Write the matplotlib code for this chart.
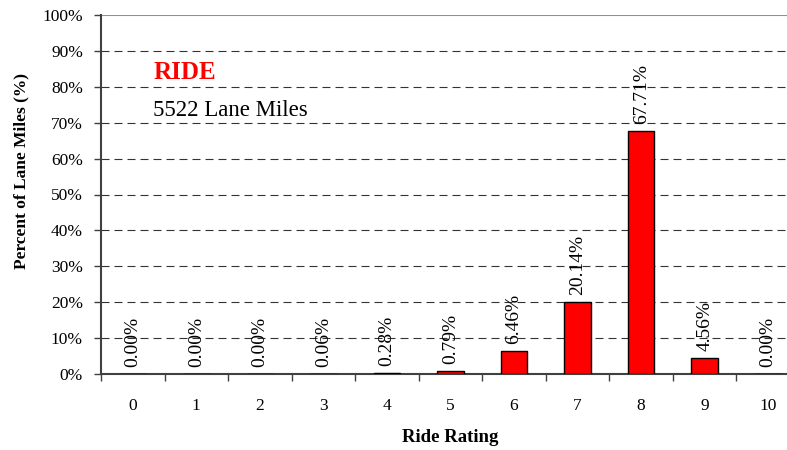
import matplotlib.pyplot as plt
import numpy as np

plt.rcParams['font.family'] = ['Liberation Serif', 'DejaVu Serif']

ratings = [0, 1, 2, 3, 4, 5, 6, 7, 8, 9, 10]
percents = [0.00, 0.00, 0.00, 0.06, 0.28, 0.79, 6.46, 20.14, 67.71, 4.56, 0.00]
labels = ['0.00%', '0.00%', '0.00%', '0.06%', '0.28%', '0.79%', '6.46%', '20.14%', '67.71%', '4.56%', '0.00%']

fig = plt.figure(figsize=(7.87, 4.5), dpi=100)
# plot area runs a little past the right edge, as in the source image
ax = fig.add_axes([101 / 787, 1 - 374 / 450, 699 / 787, 359 / 450])

ax.bar(ratings, percents, width=0.42, color='#ff0000', edgecolor='black', linewidth=1, zorder=3)

for x, v, t in zip(ratings, percents, labels):
    ax.annotate(t, (x, v), xytext=(0, 5), textcoords='offset points',
                rotation=90, ha='center', va='bottom', fontsize=14, zorder=4)

ax.set_xlim(-0.5, 10.5)
ax.set_ylim(0, 100)
ax.set_yticks(np.arange(0, 101, 10))
ax.set_yticklabels([f'{v}%' for v in range(0, 101, 10)], fontsize=12.5)
ax.set_xticks(ratings)
ax.set_xticklabels([str(r) for r in ratings], fontsize=12.5)
ax.set_xticks(np.arange(-0.5, 10.6, 1), minor=True)
ax.tick_params(axis='x', which='major', length=0, pad=17)
ax.tick_params(axis='x', which='minor', length=5, width=1, color='#404040', direction='out')
ax.tick_params(axis='y', length=5, width=1, color='#404040', direction='out', pad=8)

for y in range(10, 100, 10):
    ax.axhline(y, color='#333333', linestyle=(0, (7.2, 4.5)), linewidth=0.8, zorder=1)
ax.axhline(100, color='#909090', linewidth=1.5, zorder=1)

ax.spines['top'].set_visible(False)
ax.spines['right'].set_visible(False)
ax.spines['left'].set_color('#404040')
ax.spines['left'].set_linewidth(1.5)
ax.spines['bottom'].set_color('#404040')
ax.spines['bottom'].set_linewidth(1.5)

fig.text(450 / 787, 1 - 438 / 450, 'Ride Rating', fontsize=13.5, fontweight='bold',
         ha='center', va='center')
fig.text(21 / 787, 1 - 171 / 450, 'Percent of Lane Miles (%)', fontsize=12.5, fontweight='bold',
         rotation=90, ha='center', va='center')

ax.text(0.32, 84, 'RIDE', color='#ff0000', fontsize=18, fontweight='bold', va='center')
ax.text(0.32, 73.5, '5522 Lane Miles', color='black', fontsize=16.5, va='center')

fig.savefig('out.png', dpi=100)
